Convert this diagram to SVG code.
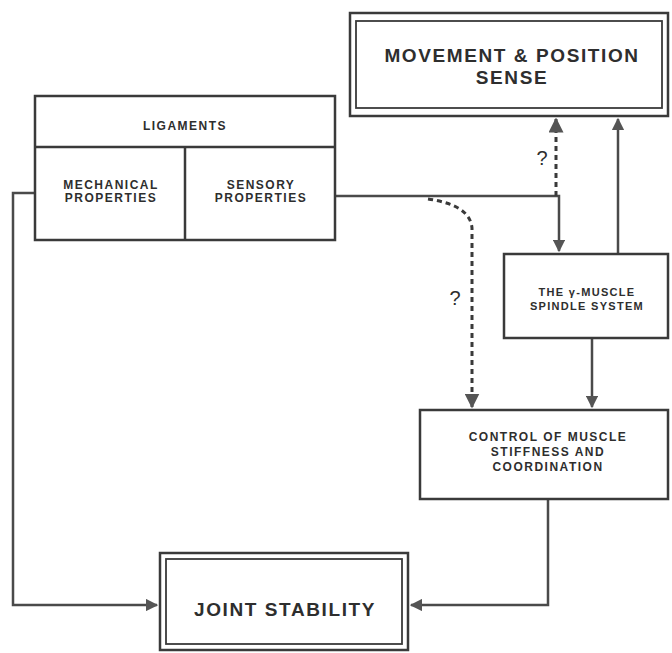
<svg xmlns="http://www.w3.org/2000/svg" width="672" height="653" viewBox="0 0 672 653">
<style>
.box{fill:none;stroke:#3a3a3a;stroke-width:2.5}
.thin{fill:none;stroke:#3a3a3a;stroke-width:1.8}
.ln{fill:none;stroke:#4a4a4a;stroke-width:2.5}
.dash{fill:none;stroke:#3a3a3a;stroke-width:3;stroke-dasharray:5 4}
text{font-family:"Liberation Sans",Arial,sans-serif;fill:#2e2e2e;text-anchor:middle;font-weight:bold}
.s{font-size:11px;letter-spacing:1.3px}
.m{font-size:12px;letter-spacing:1.5px}
.l{font-size:19px;letter-spacing:1.6px}
.q{font-size:20px;font-weight:normal}
</style>
<defs>
<marker id="ah" viewBox="0 0 10 10" refX="9" refY="5" markerWidth="5" markerHeight="5" orient="auto">
<path d="M0,0 L10,5 L0,10 z" fill="#555"/>
</marker>
</defs>
<rect width="672" height="653" fill="#fff"/>
<g id="connectors">
<path class="ln" d="M35,193 H13 V605 H157" marker-end="url(#ah)"/>
<path class="ln" d="M335,196 H559 V251" marker-end="url(#ah)"/>
<path class="dash" d="M556,196 V119" marker-end="url(#ah)"/>
<path class="ln" d="M618,254 V119" marker-end="url(#ah)"/>
<path class="dash" d="M428,199 Q470,205 472,228 V407" marker-end="url(#ah)"/>
<path class="ln" d="M592,338 V407" marker-end="url(#ah)"/>
<path class="ln" d="M548,499 V605 H411" marker-end="url(#ah)"/>
<text class="q" x="542" y="165">?</text>
<text class="q" x="455" y="305">?</text>
</g>
<g id="movement">
<rect class="box" x="350" y="13" width="318" height="103"/>
<rect class="thin" x="356" y="21" width="306" height="87"/>
<text class="l" x="512" y="62">MOVEMENT &amp; POSITION</text>
<text class="l" x="512" y="84">SENSE</text>
</g>
<g id="ligaments">
<rect class="box" x="35" y="96" width="300" height="144"/>
<line class="box" x1="35" y1="147" x2="335" y2="147"/>
<line class="box" x1="185" y1="147" x2="185" y2="240"/>
<text class="m" x="185" y="130">LIGAMENTS</text>
<text class="m" x="111" y="189">MECHANICAL</text>
<text class="m" x="111" y="202">PROPERTIES</text>
<text class="m" x="261" y="189">SENSORY</text>
<text class="m" x="261" y="202">PROPERTIES</text>
</g>
<g id="gamma">
<rect class="box" x="504" y="254" width="164" height="84"/>
<text class="s" x="587" y="296">THE γ-MUSCLE</text>
<text class="s" x="587" y="310">SPINDLE SYSTEM</text>
</g>
<g id="control">
<rect class="box" x="420" y="410" width="248" height="89"/>
<text class="m" x="548" y="441">CONTROL OF MUSCLE</text>
<text class="m" x="548" y="456">STIFFNESS AND</text>
<text class="m" x="548" y="471">COORDINATION</text>
</g>
<g id="joint">
<rect class="box" x="160" y="553" width="248" height="97"/>
<rect class="thin" x="166" y="559" width="236" height="85"/>
<text class="l" x="285" y="616">JOINT STABILITY</text>
</g>
</svg>
